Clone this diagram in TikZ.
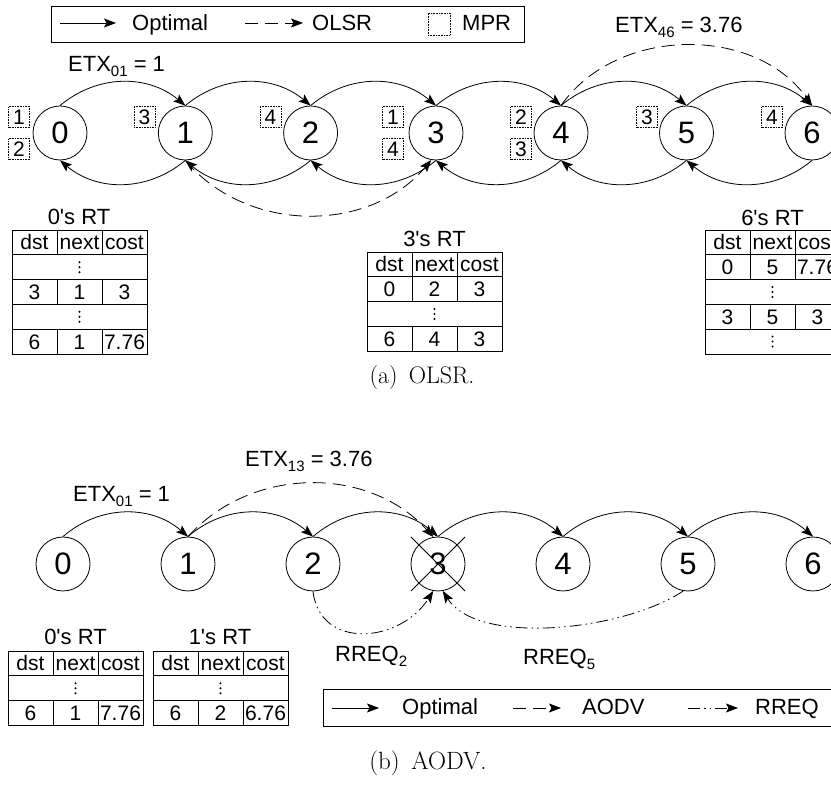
\documentclass[tikz,border=0pt]{standalone}
\usepackage{fontspec}
\newfontfamily\arial{Liberation Sans}
\usetikzlibrary{arrows.meta,calc}
\def\rh{24.8}
\tikzset{
 nd/.style={circle,draw,line width=0.8pt,minimum size=54pt,inner sep=0pt,font=\arial\fontsize{31}{31}\selectfont},
 mpr/.style={draw,densely dotted,line width=0.6pt,minimum size=21pt,inner sep=0pt,font=\arial\fontsize{21}{21}\selectfont},
 arr/.style={line width=0.8pt,-{Stealth[length=12pt,width=9pt,inset=2.5pt]}},
 ols/.style={arr,dash pattern=on 13pt off 7pt},
 rreq/.style={arr,dash pattern=on 12pt off 4pt on 1.5pt off 4pt on 1.5pt off 4pt},
 lab/.style={font=\arial\fontsize{22}{22}\selectfont,inner sep=0pt},
 cell/.style={font=\arial\fontsize{21}{21}\selectfont,inner sep=0pt,text height=15pt,text depth=0pt},
 captxt/.style={inner sep=0pt},
 frame/.style={line width=0.8pt},
 tline/.style={line width=0.7pt},
}
\newcommand{\sbx}[1]{\raisebox{-5pt}{\fontsize{15}{15}\selectfont #1}}
% table frame: x0, ytop, nrows
\newcommand{\tframe}[3]{%
  \draw[tline] (#1,#2) rectangle ++(135,-#3*\rh);
  \pgfmathtruncatemacro\tfn{#3-1}%
  \foreach \k in {1,...,\tfn} {\draw[tline] (#1,#2-\k*\rh) -- ++(135,0);}%
}
% table row: name, x0, ytop, k, a, b, c
\newcommand{\trow}[7]{%
  \draw[tline] (#2+45,#3-#4*\rh) -- ++(0,-\rh);
  \draw[tline] (#2+90,#3-#4*\rh) -- ++(0,-\rh);
  \node[cell] (#1-#4-a) at (#2+22.5,#3-#4*\rh-0.5*\rh) {#5};
  \node[cell] (#1-#4-b) at (#2+67.5,#3-#4*\rh-0.5*\rh) {#6};
  \node[cell] (#1-#4-c) at (#2+112.5,#3-#4*\rh-0.5*\rh) {#7};
}
\newcommand{\tdots}[3]{%
  \foreach \d in {-5,0,5} {\fill (#1+67.5,#2-#3*\rh-0.5*\rh+\d) circle (1.1pt);}%
}
\begin{document}
\begin{tikzpicture}[x=1pt,y=1pt]
\useasboundingbox (0,0) rectangle (831,785);
\clip (0,0) rectangle (831,785);

% ---------- (a) legend
\draw[frame] (51,743) rectangle (524,779);
\coordinate (la1) at (60,762); \coordinate (la2) at (116,762);
\draw[arr] (la1) -- (la2);
\node[lab,anchor=base west] (lopt) at (132,754) {Optimal};
\coordinate (la3) at (245,762); \coordinate (la4) at (303,762);
\draw[ols] (la3) -- (la4);
\node[lab,anchor=base west] (lolsr) at (312,754) {OLSR};
\node[mpr,minimum size=22pt] (lmpr) at (439,761) {};
\node[lab,anchor=base west] (lmprt) at (462,754) {MPR};

% ---------- (a) nodes
\foreach \i/\x in {0/60,1/185.3,2/310.6,3/436,4/561,5/686.5,6/812}
  \node[nd] (a\i) at (\x,652) {\i};
% MPR boxes
\node[mpr] (m0u) at (19,668) {1};
\node[mpr] (m0l) at (19,636) {2};
\node[mpr] (m1u) at (144.5,668) {3};
\node[mpr] (m2u) at (270.5,668) {4};
\node[mpr] (m3u) at (393,668) {1};
\node[mpr] (m3l) at (393,636) {4};
\node[mpr] (m4u) at (521,668) {2};
\node[mpr] (m4l) at (521,636) {3};
\node[mpr] (m5u) at (647,668) {3};
\node[mpr] (m6u) at (772,668) {4};
% arcs
\foreach \i [evaluate=\i as \j using int(\i+1)] in {0,...,5} {
  \draw[arr] (a\i.north) to[bend left=40] (a\j.north);
  \draw[arr] (a\j.south) to[bend left=40] (a\i.south);
}
\draw[ols] (a1.south) to[bend right=50] (a3.-100);
\draw[ols] (a4.north) to[bend left=55] (a6.north);
\node[lab,anchor=base west] (etxa01) at (68,713) {ETX\sbx{01} = 1};
\node[lab,anchor=base west] (etxa46) at (615,752) {ETX\sbx{46} = 3.76};

% ---------- (a) tables
\node[lab] (t0a) at (79,568) {0's RT};
\tframe{12}{555}{5}
\trow{ta0}{12}{555}{0}{dst}{next}{cost}
\tdots{12}{555}{1}
\trow{ta0}{12}{555}{2}{3}{1}{3}
\tdots{12}{555}{3}
\trow{ta0}{12}{555}{4}{6}{1}{7.76}

\node[lab] (t3a) at (434.5,546) {3's RT};
\tframe{367}{533}{4}
\trow{ta3}{367}{533}{0}{dst}{next}{cost}
\trow{ta3}{367}{533}{1}{0}{2}{3}
\tdots{367}{533}{2}
\trow{ta3}{367}{533}{3}{6}{4}{3}

\node[lab] (t6a) at (772.5,567) {6's RT};
\tframe{705}{555}{5}
\trow{ta6}{705}{555}{0}{dst}{next}{cost}
\trow{ta6}{705}{555}{1}{0}{5}{7.76}
\tdots{705}{555}{2}
\trow{ta6}{705}{555}{3}{3}{5}{3}
\tdots{705}{555}{4}

\node[captxt,font=\fontsize{24}{24}\selectfont] (capa) at (422,407) {(a)\, OLSR.};

% ---------- (b) nodes
\foreach \i in {0,...,6}
  \node[nd] (b\i) at (63+125*\i,221) {\i};
\foreach \i [evaluate=\i as \j using int(\i+1)] in {0,...,5} {
  \draw[arr] (b\i.north) to[bend left=41] (b\j.north);
}
\draw[ols] (b1.north) to[bend left=48] (b3.100);
\draw[line width=0.8pt] ([shift={(-27,27)}]b3.center) -- ([shift={(27,-27)}]b3.center);
\draw[line width=0.8pt] ([shift={(-27,-27)}]b3.center) -- ([shift={(27,27)}]b3.center);
\draw[rreq] (b2.south) .. controls +(7,-59) and +(-33,-52) .. (b3.-100);
\draw[rreq] (b5.-100) .. controls +(-60,-40) and +(35,-55) .. (b3.-80);
\node[lab,anchor=base west] (etxb01) at (73,283) {ETX\sbx{01} = 1};
\node[lab,anchor=base west] (etxb13) at (245,318) {ETX\sbx{13} = 3.76};
\node[lab,anchor=base west] (rq2) at (335,123) {RREQ\sbx{2}};
\node[lab,anchor=base west] (rq5) at (523,120) {RREQ\sbx{5}};

% ---------- (b) tables
\node[lab] (t0b) at (75.5,148) {0's RT};
\tframe{8}{134}{3}
\trow{tb0}{8}{134}{0}{dst}{next}{cost}
\tdots{8}{134}{1}
\trow{tb0}{8}{134}{2}{6}{1}{7.76}

\node[lab] (t1b) at (220,148) {1's RT};
\tframe{153}{134}{3}
\trow{tb1}{153}{134}{0}{dst}{next}{cost}
\tdots{153}{134}{1}
\trow{tb1}{153}{134}{2}{6}{2}{6.76}

% ---------- (b) legend
\draw[frame] (323,59) rectangle (845,96);
\coordinate (lb1) at (332,77); \coordinate (lb2) at (379,77);
\draw[arr] (lb1) -- (lb2);
\node[lab,anchor=base west] (lbopt) at (402,70) {Optimal};
\coordinate (lb3) at (513,77); \coordinate (lb4) at (561,77);
\draw[ols] (lb3) -- (lb4);
\node[lab,anchor=base west] (lbaodv) at (582,70) {AODV};
\coordinate (lb5) at (688,77); \coordinate (lb6) at (738,77);
\draw[rreq] (lb5) -- (lb6);
\node[lab,anchor=base west] (lbrreq) at (755,70) {RREQ};

\node[captxt,font=\fontsize{25}{25}\selectfont] (capb) at (428,22) {(b)\, AODV.};
\end{tikzpicture}
\end{document}
